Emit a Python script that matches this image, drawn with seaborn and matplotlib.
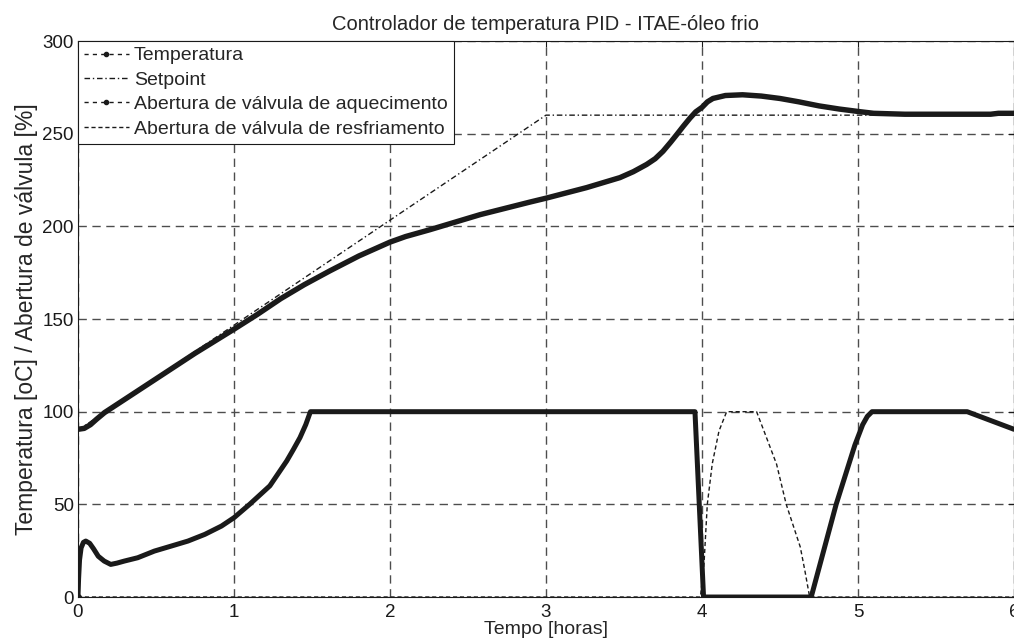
import matplotlib
matplotlib.use("Agg")
import matplotlib.pyplot as plt
from matplotlib.lines import Line2D
import seaborn as sns
import pandas as pd

# Process temperature [oC] over time [h]
temp_t = [0.0, 0.04, 0.08, 0.12, 0.17, 0.5, 0.75, 1.0, 1.15, 1.3, 1.45, 1.615, 1.8,
          2.0, 2.1, 2.256, 2.577, 2.897, 3.0, 3.26, 3.474, 3.56, 3.645, 3.70, 3.75,
          3.80, 3.838, 3.88, 3.923, 3.96, 4.0, 4.035, 4.07, 4.15, 4.26, 4.38, 4.5,
          4.62, 4.75, 4.88, 5.0, 5.1, 5.3, 5.85, 5.9, 6.0]
temp_v = [90.5, 91.0, 93.0, 96.0, 99.5, 117.7, 131.5, 144.5, 152.5, 161.0, 168.5,
          176.0, 184.0, 191.5, 194.5, 198.2, 206.3, 213.1, 215.2, 220.9, 226.3,
          229.5, 233.4, 236.5, 240.5, 245.5, 249.5, 254.0, 258.4, 261.8, 264.2,
          267.2, 269.0, 270.6, 271.0, 270.3, 269.0, 267.2, 265.0, 263.3, 262.0,
          261.0, 260.5, 260.5, 261.0, 261.0]

# Setpoint ramp followed by a hold
sp_t = [0.0, 3.0, 6.0]
sp_v = [90.0, 260.0, 260.0]

# Heating valve opening [%]
heat_t = [0.0, 0.004, 0.01, 0.02, 0.035, 0.05, 0.075, 0.1, 0.13, 0.168, 0.21, 0.25,
          0.297, 0.383, 0.49, 0.598, 0.705, 0.813, 0.92, 1.0, 1.1, 1.23, 1.338,
          1.38, 1.423, 1.46, 1.49, 3.955, 4.01, 4.70, 4.86, 4.98, 5.03, 5.06, 5.09,
          5.70, 6.0]
heat_v = [0.0, 10.0, 20.0, 26.5, 29.5, 30.2, 29.0, 26.0, 22.0, 19.4, 17.6, 18.3,
          19.4, 21.2, 24.8, 27.5, 30.2, 33.8, 38.3, 42.8, 50.0, 60.0, 73.4, 79.5,
          86.0, 93.0, 100.0, 100.0, 0.0, 0.0, 50.0, 82.0, 93.0, 97.5, 100.0, 100.0,
          90.5]

# Cooling valve opening [%]
cool_t = [0.0, 3.99, 4.013, 4.034, 4.066, 4.109, 4.158, 4.35, 4.40, 4.478, 4.54,
          4.63, 4.66, 4.69, 6.0]
cool_v = [0.0, 0.0, 18.0, 50.0, 72.0, 89.6, 100.0, 100.0, 89.0, 71.7, 50.0, 27.0,
          14.0, 0.0, 0.0]

labels = ["Temperatura", "Setpoint", "Abertura de válvula de aquecimento",
          "Abertura de válvula de resfriamento"]

sns.set_theme(style="white")
plt.rcParams["font.family"] = ["Liberation Sans", "DejaVu Sans"]

fig = plt.figure(figsize=(10.14, 6.41), dpi=100)
ax = fig.add_axes([0.0769, 0.0686, 0.9231, 0.8674])

df_temp = pd.DataFrame({"t": temp_t, "v": temp_v})
df_sp = pd.DataFrame({"t": sp_t, "v": sp_v})
df_heat = pd.DataFrame({"t": heat_t, "v": heat_v})
df_cool = pd.DataFrame({"t": cool_t, "v": cool_v})

sns.lineplot(data=df_cool, x="t", y="v", ax=ax, color="k", lw=1.0,
             linestyle=(0, (3, 2)), zorder=3)
sns.lineplot(data=df_sp, x="t", y="v", ax=ax, color="k", lw=1.0,
             linestyle=(0, (4, 2, 1, 2)), zorder=3)
sns.lineplot(data=df_temp, x="t", y="v", ax=ax, color="k", lw=3.9,
             solid_capstyle="round", solid_joinstyle="round", zorder=4)
sns.lineplot(data=df_heat, x="t", y="v", ax=ax, color="k", lw=3.6,
             solid_capstyle="round", solid_joinstyle="round", zorder=4)
ax.plot([heat_t[0]], [heat_v[0]], marker=".", color="k", ms=8, zorder=5)

ax.set_xlim(0, 6)
ax.set_ylim(0, 300)
ax.set_xticks(range(0, 7))
ax.set_yticks(range(0, 301, 50))
ax.grid(True, color="0.3", lw=1.0, linestyle=(0, (6, 4)))
ax.set_axisbelow(True)
for s in ax.spines.values():
    s.set_color("k")
    s.set_linewidth(0.8)
ax.tick_params(direction="in", length=4, width=0.8, top=True, right=True,
               labelsize=13.5, colors="k")
ax.tick_params(axis="x", pad=5)
ax.tick_params(axis="y", pad=3)

ax.set_title("Controlador de temperatura PID - ITAE-óleo frio", fontsize=14.5, pad=8)
ax.set_xlabel("Tempo [horas]", fontsize=14, labelpad=0)
ax.set_ylabel("Temperatura [oC] / Abertura de válvula [%]", fontsize=16.5, labelpad=3)

handles = [
    Line2D([], [], color="k", lw=1.0, linestyle=(0, (3, 3)), marker=".", ms=6),
    Line2D([], [], color="k", lw=1.0, linestyle=(0, (4, 2, 1, 2))),
    Line2D([], [], color="k", lw=1.0, linestyle=(0, (3, 3)), marker=".", ms=6),
    Line2D([], [], color="k", lw=1.0, linestyle=(0, (3, 2))),
]
leg = ax.legend(handles, labels, loc="upper left", fontsize=14, frameon=True,
                fancybox=False, borderaxespad=0, handlelength=2.3,
                handletextpad=0.28, labelspacing=0.35, borderpad=0.3)
leg.get_frame().set_edgecolor("k")
leg.get_frame().set_linewidth(0.8)
leg.get_frame().set_alpha(1)

fig.savefig("out.png", dpi=100)
